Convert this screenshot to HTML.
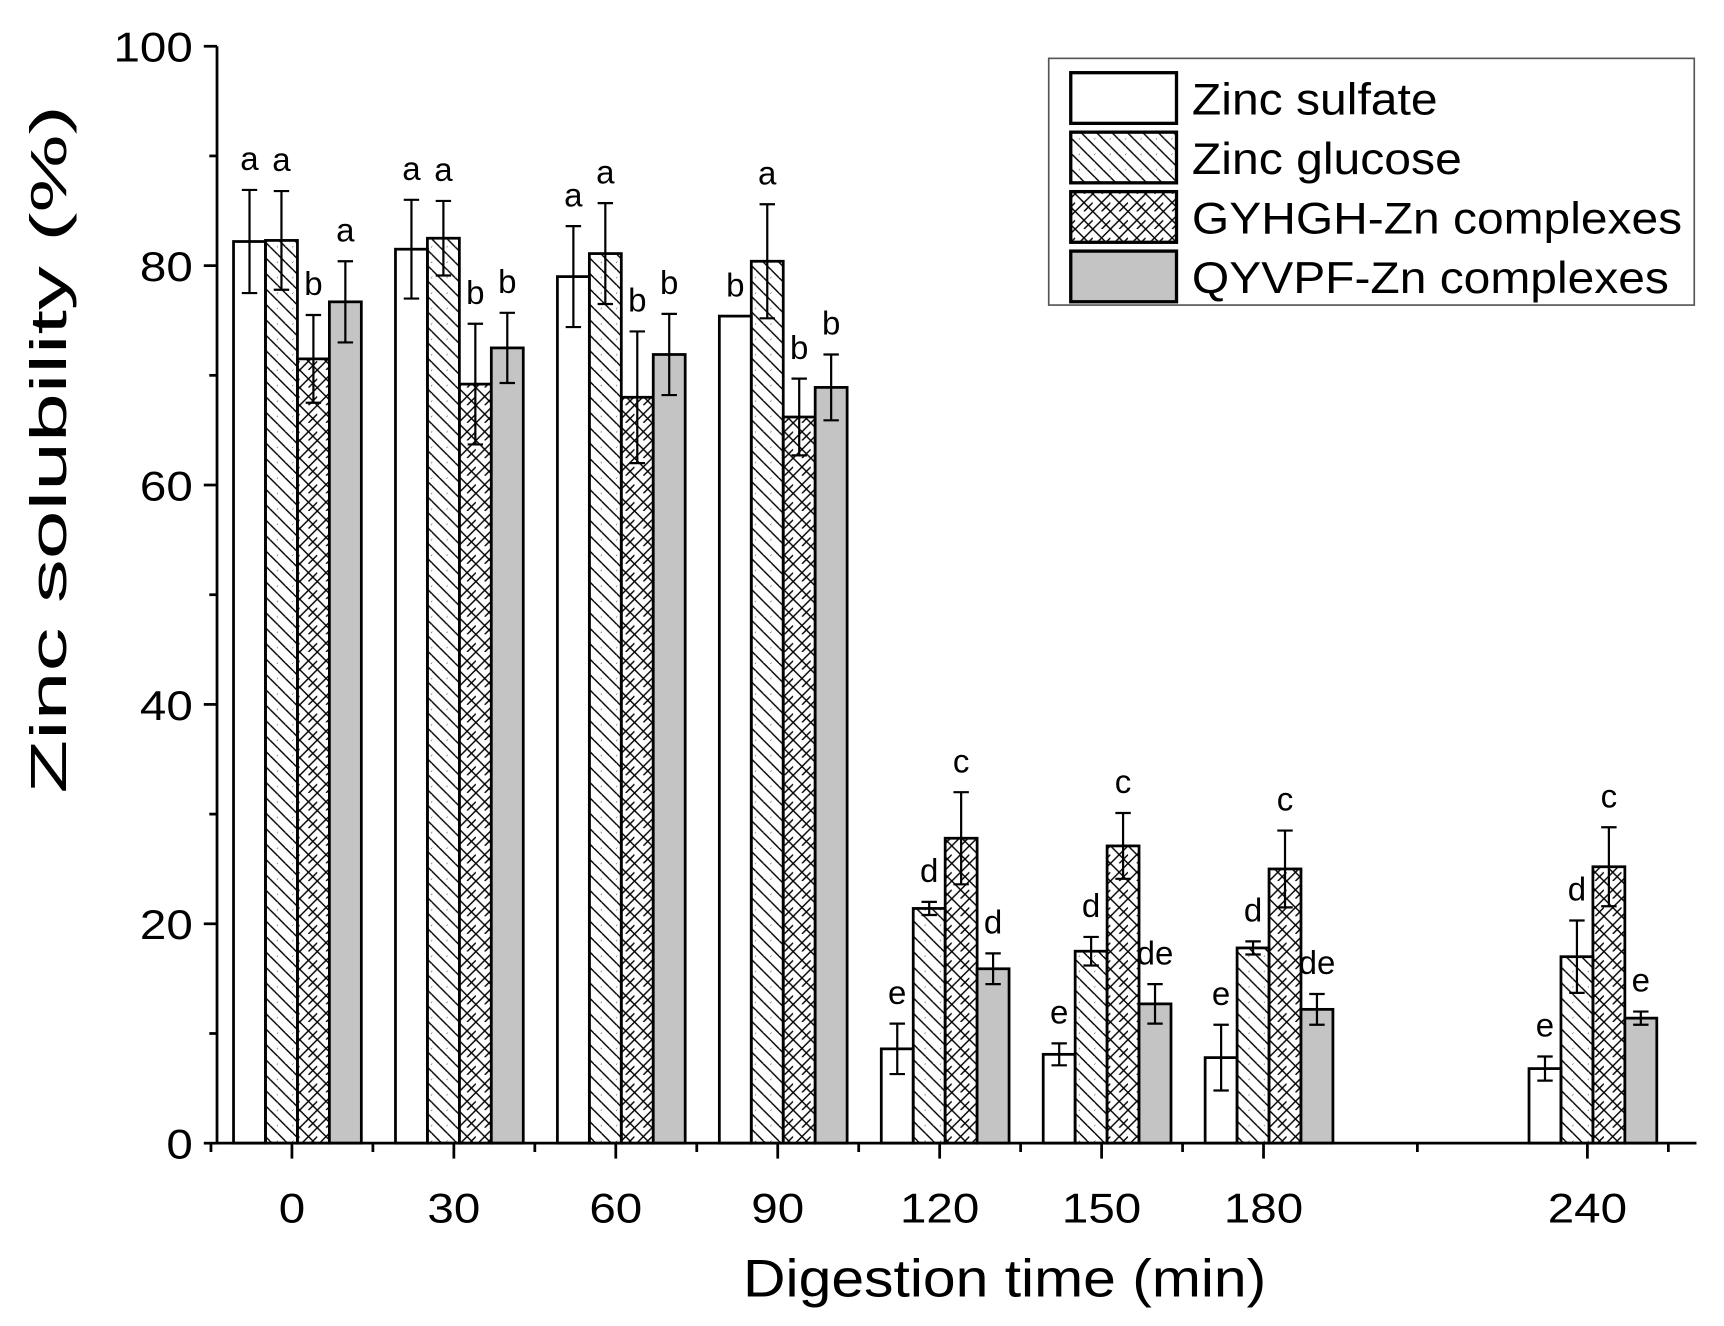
<!DOCTYPE html>
<html><head><meta charset="utf-8"><style>html,body{margin:0;padding:0;background:#fff}svg{display:block}</style></head>
<body>
<svg id="chart" width="1724" height="1326" viewBox="0 0 1565 1204" preserveAspectRatio="none" xmlns="http://www.w3.org/2000/svg" font-family="Liberation Sans, Arial, sans-serif">
<defs>
<pattern id="pDiag" patternUnits="userSpaceOnUse" width="14" height="14"><path d="M-7,0 L7,14 M0,-7 L14,7 M0,7 L7,14 M7,-7 L21,7 M-7,7 L0,14" stroke="#000" stroke-width="1.3" fill="none"/></pattern>
<pattern id="pCross" patternUnits="userSpaceOnUse" width="16" height="16"><path d="M0,0 L16,16 M16,0 L0,16 M-8,8 L0,16 M8,-8 L16,0 M8,16 L16,8 M-8,8 L0,0" stroke="#000" stroke-width="1.3" fill="none"/></pattern>
</defs>
<g id="plot"></g>
<text transform="translate(60,408) rotate(-90)" text-anchor="middle" font-size="46" textLength="625" lengthAdjust="spacingAndGlyphs">Zinc solubility (%)</text>
<text x="912" y="1177" text-anchor="middle" font-size="48" textLength="475" lengthAdjust="spacingAndGlyphs">Digestion time (min)</text>
<g>
<rect x="952" y="53" width="586" height="224" fill="#fff" stroke="#555" stroke-width="1.5"/>
<g><rect x="972" y="66" width="96" height="46" fill="#fff" stroke="#000" stroke-width="3"/><text x="1082" y="104" font-size="40" textLength="223" lengthAdjust="spacingAndGlyphs">Zinc sulfate</text></g>
<g><rect x="972" y="120" width="96" height="46" fill="url(#pDiag)" stroke="#000" stroke-width="3"/><text x="1082" y="158" font-size="40" textLength="245" lengthAdjust="spacingAndGlyphs">Zinc glucose</text></g>
<g><rect x="972" y="174" width="96" height="46" fill="url(#pCross)" stroke="#000" stroke-width="3"/><text x="1082" y="212" font-size="40" textLength="445" lengthAdjust="spacingAndGlyphs">GYHGH-Zn complexes</text></g>
<g><rect x="972" y="228" width="96" height="46" fill="#c4c4c4" stroke="#000" stroke-width="3"/><text x="1082" y="266" font-size="40" textLength="433" lengthAdjust="spacingAndGlyphs">QYVPF-Zn complexes</text></g>
</g>
</svg>
<script>
const categories = ["0","30","60","90","120","150","180","240"];
const catIndex = [0,1,2,3,4,5,6,8];
const zincSulfate = [82.2,81.5,79.0,75.4,8.6,8.1,7.8,6.8];
const zincSulfateErr = [4.7,4.5,4.6,0,2.3,1.0,3.0,1.1];
const zincGlucose = [82.3,82.5,81.1,80.4,21.4,17.5,17.8,17.0];
const zincGlucoseErr = [4.5,3.4,4.6,5.2,0.6,1.3,0.6,3.3];
const gyhgh = [71.5,69.2,68.0,66.2,27.8,27.1,25.0,25.2];
const gyhghErr = [4.0,5.5,6.0,3.5,4.2,3.0,3.5,3.6];
const qyvpf = [76.7,72.5,71.9,68.9,15.9,12.7,12.2,11.4];
const qyvpfErr = [3.7,3.2,3.7,3.0,1.4,1.8,1.4,0.6];
const letters = [["a","a","a","b","e","e","e","e"],["a","a","a","a","d","d","d","d"],["b","b","b","b","c","c","c","c"],["a","b","b","b","d","de","de","e"]];
const yTicks = [0,20,40,60,80,100];

const NS="http://www.w3.org/2000/svg";
const g=document.getElementById('plot');
const X0=197,X1=1540,Y0=1038,Y1=42;
function xs(i){return 270+i*147;}
function ys(v){return Y0-(v/100)*(Y0-Y1);}
function mk(t,a,p){const e=document.createElementNS(NS,t);for(const k in a)e.setAttribute(k,a[k]);(p||g).appendChild(e);return e;}
const series=[[zincSulfate,zincSulfateErr,"#fff","zinc-sulfate"],[zincGlucose,zincGlucoseErr,"url(#pDiag)","zinc-glucose"],[gyhgh,gyhghErr,"url(#pCross)","gyhgh-zn"],[qyvpf,qyvpfErr,"#c4c4c4","qyvpf-zn"]];
const bw=29;
series.forEach((s,si)=>{
  s[0].forEach((v,ci)=>{
    const cx=xs(catIndex[ci])+(si-1.5)*bw;
    const r=mk('rect',{x:cx-bw/2,y:ys(v),width:bw,height:ys(0)-ys(v),fill:s[2],stroke:'#000','stroke-width':2.5});
    
    
    const e=s[1][ci],top=ys(v+e),bot=ys(v-e);
    const eb=mk('path',{d:`M${cx},${top}V${bot}M${cx-7},${top}H${cx+7}M${cx-7},${bot}H${cx+7}`,stroke:'#000','stroke-width':2,fill:'none'});
    
    
    const t=mk('text',{x:cx,y:top-18,'text-anchor':'middle','font-size':30});
    t.textContent=letters[si][ci];
    
    
  });
});
const ax=mk('path',{d:`M${X0},${Y1}V${Y0}H${X1}`,stroke:'#000','stroke-width':2.5,fill:'none'});


yTicks.forEach(v=>{
  mk('line',{x1:X0-12,x2:X0,y1:ys(v),y2:ys(v),stroke:'#000','stroke-width':2.5});
  if(v<100)mk('line',{x1:X0-7,x2:X0,y1:ys(v+10),y2:ys(v+10),stroke:'#000','stroke-width':2.5});
  const t=mk('text',{x:X0-22,y:ys(v)+14,'text-anchor':'end','font-size':38,textLength:String(v).length*24,lengthAdjust:'spacingAndGlyphs'});
  t.textContent=v;
  
  
});
categories.forEach((c,ci)=>{
  const x=xs(catIndex[ci])-5;
  mk('line',{x1:x,x2:x,y1:Y0,y2:Y0+14,stroke:'#000','stroke-width':2.5});
  const t=mk('text',{x:x,y:Y0+72,'text-anchor':'middle','font-size':38,textLength:c.length*24,lengthAdjust:'spacingAndGlyphs'});
  t.textContent=c;
  
  
});
[-0.5,0.5,1.5,2.5,3.5,4.5,5.5,6.95,8.5].forEach(k=>{
  const x=xs(k)-5;
  mk('line',{x1:x,x2:x,y1:Y0,y2:Y0+8,stroke:'#000','stroke-width':2.5});
});
</script>
</body></html>
